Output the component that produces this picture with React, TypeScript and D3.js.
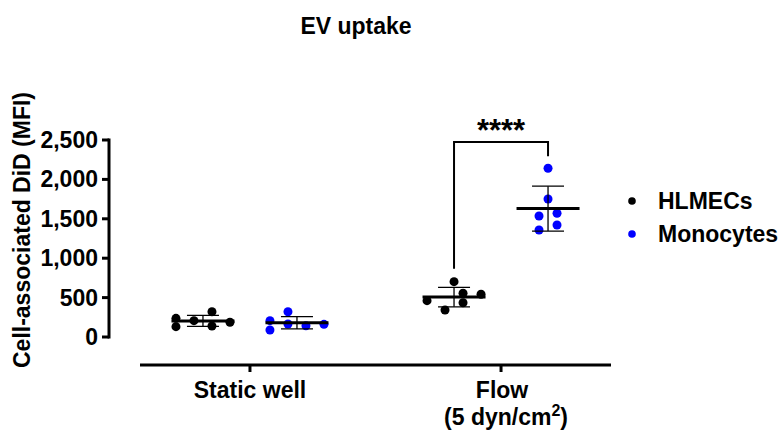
import React from 'react';
import * as d3 from 'd3';

const categories = ['Static well', 'Flow'];
const seriesNames = ['HLMECs', 'Monocytes'];
const seriesColors = ['#000000', '#0000ff'];

// values per category/series (MFI), with horizontal column slots for the scatter
const staticHLMECs = [237, 131, 207, 321, 140, 187];
const staticHLMECsSlots = [-1.5, -1.5, -0.5, 0.5, 0.5, 1.5];
const staticMonocytes = [207, 89, 321, 165, 143, 161];
const staticMonocytesSlots = [-1.5, -1.5, -0.5, -0.5, 0.5, 1.5];
const flowHLMECs = [461, 343, 702, 555, 435, 542];
const flowHLMECsSlots = [-1.5, -0.5, 0, 0.5, 0.5, 1.5];
const flowMonocytes = [2141, 1751, 1536, 1570, 1421, 1358];
const flowMonocytesSlots = [0, 0, -0.5, 0.5, 0.5, -0.5];

const yTicks = [0, 500, 1000, 1500, 2000, 2500];
const significance = '****';

const groups = [
  { cat: 'Static well', ser: 'HLMECs', values: staticHLMECs, slots: staticHLMECsSlots },
  { cat: 'Static well', ser: 'Monocytes', values: staticMonocytes, slots: staticMonocytesSlots },
  { cat: 'Flow', ser: 'HLMECs', values: flowHLMECs, slots: flowHLMECsSlots },
  { cat: 'Flow', ser: 'Monocytes', values: flowMonocytes, slots: flowMonocytesSlots },
];

const FONT = '"Liberation Sans", Arial, Helvetica, sans-serif';
const FS = 23;

export default function App() {
  const y = d3.scaleLinear().domain([0, 2500]).range([337, 140]);
  const x = d3.scalePoint<string>().domain(categories).range([140, 611]).padding(0.438);
  const sub = d3.scalePoint<string>().domain(seriesNames).range([-47, 47]);
  const color = d3.scaleOrdinal<string, string>().domain(seriesNames).range(seriesColors);
  const fmt = d3.format(',');
  const slotW = 18;

  const stats = groups.map((g) => {
    const mean = d3.mean(g.values) as number;
    const sd = d3.deviation(g.values) as number;
    const cx = (x(g.cat) as number) + (sub(g.ser) as number);
    return { ...g, mean, sd, cx, max: d3.max(g.values) as number };
  });

  const flowH = stats[2];
  const flowM = stats[3];
  const bracketTop = y(2475);
  const legL = y(Math.max(flowH.max, flowH.mean + flowH.sd)) - 13;
  const legR = y(Math.max(flowM.max, flowM.mean + flowM.sd)) - 12;

  return (
    <svg width={779} height={434} style={{ position: 'absolute', left: 0, top: 0 }} fontFamily={FONT} fontWeight="bold">
      <rect width={779} height={434} fill="#fff" />
      <text x={356} y={34} textAnchor="middle" fontSize={FS}>EV uptake</text>

      {/* y axis */}
      <line x1={109} x2={109} y1={y(2500) - 1.5} y2={y(0) + 1.5} stroke="#000" strokeWidth={3} />
      {yTicks.map((t) => (
        <g key={t}>
          <line x1={102} x2={109} y1={y(t)} y2={y(t)} stroke="#000" strokeWidth={3} />
          <text x={98} y={y(t) + 8} textAnchor="end" fontSize={FS}>{fmt(t)}</text>
        </g>
      ))}
      <text transform={`translate(30,230) rotate(-90)`} textAnchor="middle" fontSize={FS}>Cell-associated DiD (MFI)</text>

      {/* x axis */}
      <line x1={140} x2={611} y1={365} y2={365} stroke="#000" strokeWidth={3} />
      {categories.map((c) => (
        <line key={c} x1={x(c)} x2={x(c)} y1={365} y2={372} stroke="#000" strokeWidth={3} />
      ))}
      <text x={x('Static well')} y={398} textAnchor="middle" fontSize={FS}>Static well</text>
      <text x={(x('Flow') as number) + 1} y={398} textAnchor="middle" fontSize={FS}>Flow</text>
      <text x={(x('Flow') as number) + 5} y={425} textAnchor="middle" fontSize={FS}>
        (5 dyn/cm<tspan dy={-9} fontSize={16}>2</tspan><tspan dy={9}>)</tspan>
      </text>

      {/* points */}
      {stats.map((g, gi) => (
        <g key={gi}>
          {g.values.map((v, i) => (
            <circle key={i} cx={g.cx + g.slots[i] * slotW} cy={y(v)} r={4.5} fill={color(g.ser)} />
          ))}
        </g>
      ))}

      {/* mean and SD */}
      {stats.map((g, gi) => (
        <g key={gi} stroke="#000">
          <line x1={g.cx} x2={g.cx} y1={y(g.mean + g.sd)} y2={y(g.mean - g.sd)} strokeWidth={1.3} />
          <line x1={g.cx - 16} x2={g.cx + 16} y1={y(g.mean + g.sd)} y2={y(g.mean + g.sd)} strokeWidth={1.3} />
          <line x1={g.cx - 16} x2={g.cx + 16} y1={y(g.mean - g.sd)} y2={y(g.mean - g.sd)} strokeWidth={1.3} />
          <line x1={g.cx - 31.5} x2={g.cx + 31.5} y1={y(g.mean)} y2={y(g.mean)} strokeWidth={3} />
        </g>
      ))}

      {/* significance bracket */}
      <path d={`M${flowH.cx},${legL}V${bracketTop}H${flowM.cx}V${legR}`} fill="none" stroke="#000" strokeWidth={2} />
      <text x={(flowH.cx + flowM.cx) / 2} y={141} textAnchor="middle" fontSize={31}>{significance}</text>

      {/* legend */}
      {seriesNames.map((s, i) => (
        <g key={s}>
          <circle cx={632} cy={201 + i * 33} r={3.8} fill={color(s)} />
          <text x={658} y={209 + i * 33} fontSize={FS}>{s}</text>
        </g>
      ))}
    </svg>
  );
}
